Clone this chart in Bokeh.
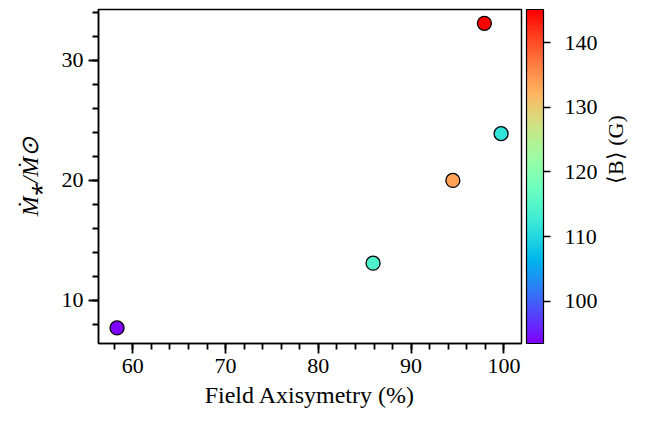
import math
from bokeh.plotting import figure
from bokeh.layouts import row
from bokeh.models import (ColumnDataSource, LinearColorMapper, ColorBar, SingleIntervalTicker,
                          FixedTicker, Label, Range1d)
from bokeh.embed import file_html
from bokeh.resources import INLINE

# Data
axisymmetry = [58.3, 85.9, 94.5, 97.9, 99.7]
mdot = [7.7, 13.1, 20.0, 33.1, 23.9]
bfield = [93.5, 114.4, 133.7, 145.1, 111.6]
cbar_ticks = [100, 110, 120, 130, 140]

# matplotlib "rainbow" colormap as palette
palette = []
for i in range(256):
    t = i / 255
    r = min(1.0, abs(2 * t - 0.5))
    g = max(0.0, math.sin(math.pi * t))
    b = max(0.0, math.cos(math.pi * t / 2))
    palette.append("#%02x%02x%02x" % (round(r * 255), round(g * 255), round(b * 255)))

FONT = "Liberation Serif"
FS = "22px"
LFS = "24px"

src = ColumnDataSource(dict(x=axisymmetry, y=mdot, b=bfield))
mapper = LinearColorMapper(palette=palette, low=min(bfield), high=max(bfield))

p = figure(width=600, height=422, output_backend="svg", toolbar_location=None,
           x_range=Range1d(56.3, 101.9), y_range=Range1d(6.4, 34.25),
           min_border_left=98, min_border_right=78, min_border_top=9, min_border_bottom=79)
p.grid.visible = False
p.outline_line_color = "black"
p.outline_line_width = 1.5
p.background_fill_color = "white"
p.border_fill_color = "white"

p.scatter("x", "y", source=src, size=14, line_color="black", line_width=1.3,
          fill_color={"field": "b", "transform": mapper})

for ax in (p.xaxis[0], p.yaxis[0]):
    ax.ticker = SingleIntervalTicker(interval=10, num_minor_ticks=5)
    ax.axis_line_color = "black"
    ax.axis_line_width = 1.5
    ax.major_tick_line_width = 1.8
    ax.minor_tick_line_width = 1.8
    ax.major_tick_in = 0
    ax.minor_tick_in = 0
    ax.major_tick_out = 10
    ax.minor_tick_out = 6
    ax.major_label_text_font = FONT
    ax.major_label_text_font_size = FS
    ax.major_label_text_color = "black"
    ax.axis_label_text_font = FONT
    ax.axis_label_text_font_size = LFS
    ax.axis_label_text_color = "black"
    ax.major_label_standoff = 5

p.xaxis.axis_label = "Field Axisymetry (%)"
p.xaxis.axis_label_text_font_style = "normal"
p.xaxis.axis_label_standoff = 6
p.yaxis.axis_label = "Ṁ⁎/Ṁ⊙"
p.yaxis.axis_label_text_font_style = "italic"
p.yaxis.axis_label_standoff = 16

cb = ColorBar(color_mapper=mapper, ticker=FixedTicker(ticks=cbar_ticks),
              width=17, height=334, margin=0, padding=0, location=(5, 0),
              bar_line_color="black", bar_line_width=1.2,
              border_line_color=None, background_fill_color=None,
              major_tick_in=0, major_tick_out=7, major_tick_line_color="black",
              major_tick_line_width=1.5,
              major_label_text_font=FONT, major_label_text_font_size=FS,
              major_label_text_color="black", label_standoff=14)
p.add_layout(cb, "right")

# side panel holding the colour-bar title (rotated, reading bottom to top)
q = figure(width=47, height=422, output_backend="svg", toolbar_location=None,
           x_range=Range1d(0, 47), y_range=Range1d(0, 422),
           min_border=0, min_border_left=0, min_border_right=0,
           min_border_top=0, min_border_bottom=0)
q.axis.visible = False
q.grid.visible = False
q.outline_line_color = None
q.background_fill_color = "white"
q.border_fill_color = "white"
q.add_layout(Label(x=15, y=245, text="⟨B⟩ (G)", angle=math.pi / 2,
                   text_align="center", text_baseline="middle",
                   text_font=FONT, text_font_size="22px", text_color="black"))

layout = row(p, q, spacing=0)
open("out.html", "w").write(file_html(layout, INLINE))
